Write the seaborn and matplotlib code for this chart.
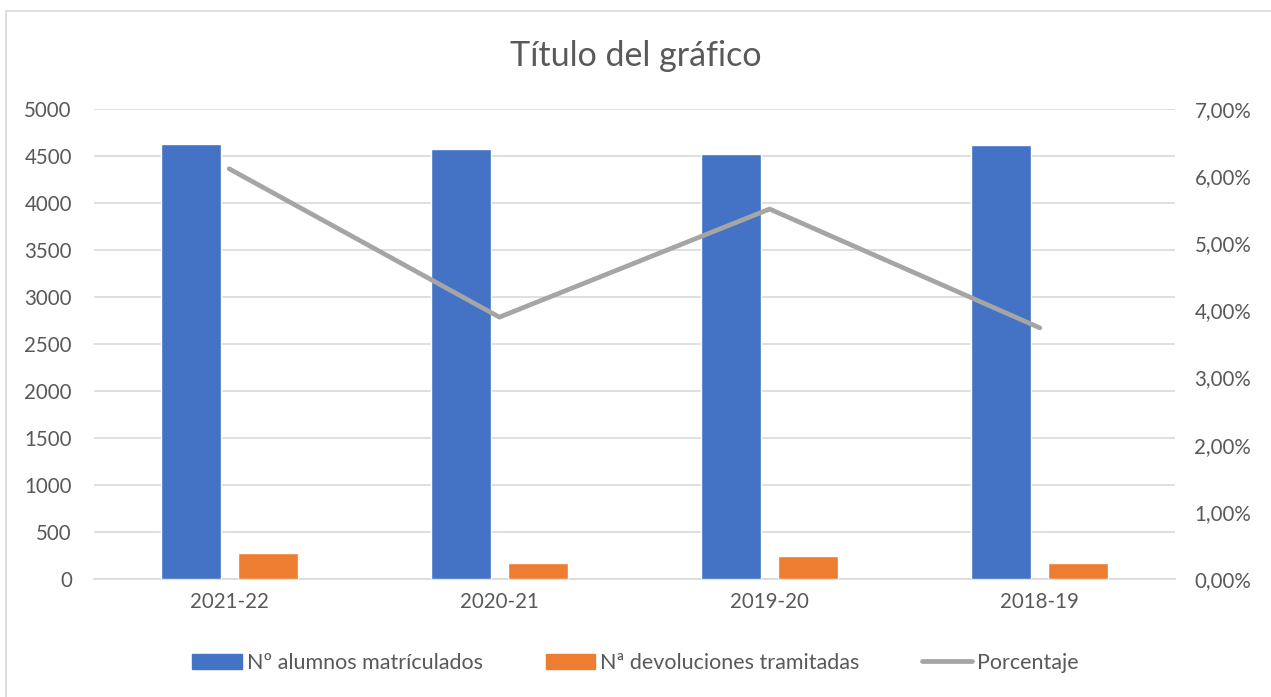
import matplotlib
matplotlib.use('Agg')
import matplotlib.pyplot as plt
import seaborn as sns
import pandas as pd
import numpy as np
from matplotlib.ticker import FuncFormatter, MultipleLocator
from matplotlib.patches import Patch, Rectangle
from matplotlib.lines import Line2D

cursos = ['2021-22', '2020-21', '2019-20', '2018-19']
alumnos = [4624, 4571, 4518, 4614]
devoluciones = [280, 167, 245, 167]
porcentaje = [6.11, 3.90, 5.51, 3.74]

series = ['Nº alumnos matrículados', 'Nª devoluciones tramitadas', 'Porcentaje']
colores = ['#4472C4', '#ED7D31', '#A5A5A5']
gris_txt = '#595959'
gris_grid = '#D9D9D9'

sns.set_theme(style='white')
plt.rcParams['font.family'] = ['Lato', 'DejaVu Sans']

df = pd.DataFrame({
    'Curso': cursos * 2,
    'Serie': [series[0]] * len(cursos) + [series[1]] * len(cursos),
    'Valor': alumnos + devoluciones,
})

fig = plt.figure(figsize=(12.71, 6.97), dpi=100)
ax = fig.add_axes([94 / 1271, 1 - 579 / 697, (1175 - 94) / 1271, 470 / 697])

sns.barplot(data=df, x='Curso', y='Valor', hue='Serie', palette=colores[:2],
            width=0.571, gap=0.223, saturation=1, legend=False, ax=ax, zorder=3)
ax.set_xlim(-0.5, len(cursos) - 0.5)
ax.set_ylim(0, 5000)
ax.yaxis.set_major_locator(MultipleLocator(500))
ax.set_xlabel('')
ax.set_ylabel('')
ax.grid(axis='y', color=gris_grid, lw=1.2, zorder=0)
ax.set_axisbelow(True)
for s in ['left', 'right', 'top']:
    ax.spines[s].set_visible(False)
ax.spines['bottom'].set_color(gris_grid)
ax.spines['bottom'].set_linewidth(1.2)
ax.tick_params(axis='y', length=0, pad=16, labelsize=14.8, labelcolor=gris_txt)
ax.tick_params(axis='x', length=0, pad=9, labelsize=14.8, labelcolor=gris_txt)

ax2 = ax.twinx()
sns.lineplot(x=np.arange(len(cursos)), y=porcentaje, ax=ax2, color=colores[2],
             lw=3.4, solid_capstyle='round', solid_joinstyle='round', zorder=4)
ax2.set_ylim(0, 7)
ax2.yaxis.set_major_locator(MultipleLocator(1))
ax2.yaxis.set_major_formatter(FuncFormatter(lambda v, _: f'{v:.2f}%'.replace('.', ',')))
ax2.tick_params(axis='y', length=0, pad=14, labelsize=14.8, labelcolor=gris_txt)
ax2.grid(False)
for s in ax2.spines.values():
    s.set_visible(False)

fig.text(0.5, 1 - 56 / 697, 'Título del gráfico', ha='center', va='center',
         fontsize=24.5, color=gris_txt)

handles = [Patch(color=colores[0]), Patch(color=colores[1]),
           Line2D([], [], color=colores[2], lw=3.4, solid_capstyle='round')]
fig.legend(handles, series, loc='center', bbox_to_anchor=(0.5, 1 - 663 / 697),
           ncol=3, frameon=False, fontsize=15.5, labelcolor=gris_txt,
           handlelength=2.3, handleheight=0.75, handletextpad=0.25, columnspacing=2.9)

fig.patches.append(Rectangle((6 / 1271, -0.1), 1.2, 1 - 10.5 / 697 + 0.1,
                             transform=fig.transFigure, fill=False,
                             edgecolor=gris_grid, lw=1.2))

plt.savefig('out.png', dpi=100)
